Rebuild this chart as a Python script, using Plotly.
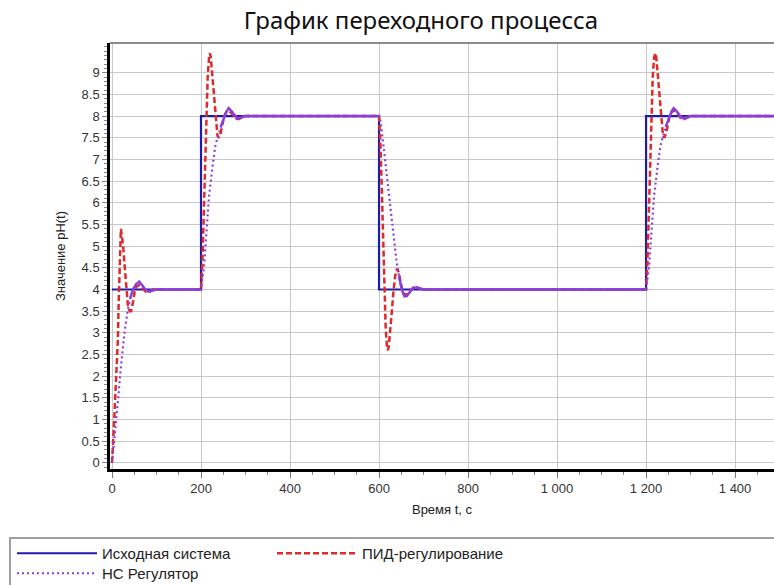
import numpy as np
import plotly.graph_objects as go

# ---- data -------------------------------------------------------------
# reference (setpoint) signal
T_REF = [0, 200, 200, 600, 600, 1200, 1200, 1490]
V_REF = [4, 4, 8, 8, 4, 4, 8, 8]

# PID controller response
T_PID = [0, 3, 5, 8, 11, 13, 15, 17, 19, 20, 22, 25, 28, 32, 36, 40, 43, 47, 51, 56,
         62, 69, 76, 84, 92, 100,
         200, 203, 206, 209, 212, 215, 218, 220, 222, 225, 228, 231, 234, 237, 240, 244,
         248, 252, 257, 263, 270, 277, 284, 292, 300,
         600, 603, 606, 609, 612, 615, 618, 620, 622, 625, 628, 632, 636, 640, 644, 648,
         652, 656, 662, 669, 676, 683, 691, 700,
         1200, 1203, 1206, 1209, 1212, 1215, 1218, 1221, 1223, 1226, 1229, 1232, 1235,
         1238, 1241, 1245, 1249, 1253, 1258, 1264, 1271, 1278, 1285, 1293, 1301, 1490]
V_PID = [0, 0.5, 1.0, 1.7, 2.3, 2.8, 3.7, 4.6, 5.2, 5.4, 5.25, 5.0, 4.6, 4.0, 3.6, 3.5,
         3.5, 3.7, 3.95, 4.08, 4.1, 4.02, 3.95, 3.95, 4.0, 4.0,
         4, 4.6, 5.6, 6.8, 8.0, 8.9, 9.35, 9.45, 9.35, 9.0, 8.6, 8.2, 7.8, 7.55, 7.5, 7.6,
         7.8, 8.0, 8.1, 8.12, 8.05, 7.95, 7.93, 7.97, 8.0,
         8, 7.4, 6.4, 5.2, 4.0, 3.1, 2.65, 2.6, 2.7, 3.0, 3.4, 3.9, 4.3, 4.48, 4.4, 4.2,
         4.0, 3.9, 3.88, 3.95, 4.04, 4.06, 4.02, 4.0,
         4, 4.6, 5.6, 6.8, 8.0, 8.9, 9.35, 9.45, 9.35, 9.0, 8.6, 8.2, 7.8, 7.55, 7.5, 7.6,
         7.8, 8.0, 8.1, 8.12, 8.05, 7.95, 7.93, 7.97, 8.0, 8.0]

# neural-network controller response
T_NN = [0, 5, 9, 14, 18, 23, 28, 35, 41, 47, 54, 61, 68, 75, 82, 90, 100,
        200, 203, 207, 213, 218, 226, 232, 237, 244, 252, 257, 262, 268, 275, 282, 290, 298,
        600, 604, 611, 619, 626, 633, 639, 645, 651, 657, 663, 670, 677, 684, 692, 700,
        1200, 1203, 1207, 1213, 1218, 1226, 1232, 1237, 1244, 1252, 1257, 1262, 1268, 1275,
        1282, 1290, 1298, 1490]
V_NN = [0, 0.5, 1.0, 1.5, 2.0, 2.5, 3.0, 3.5, 3.8, 4.0, 4.12, 4.18, 4.1, 4.0, 3.95, 3.97, 4.0,
        4, 4.25, 4.55, 5.45, 6.15, 6.85, 7.3, 7.5, 7.75, 7.98, 8.1, 8.18, 8.12, 8.02, 7.95, 7.96, 8.0,
        8, 7.85, 7.22, 6.5, 5.83, 5.22, 4.68, 4.3, 4.0, 3.84, 3.85, 3.95, 4.03, 4.05, 4.02, 4.0,
        4, 4.25, 4.55, 5.45, 6.15, 6.85, 7.3, 7.5, 7.75, 7.98, 8.1, 8.18, 8.12, 8.02, 7.95, 7.96, 8.0, 8.0]

X_TICK_VALUES = [0, 200, 400, 600, 800, 1000, 1200, 1400]
X_TICK_LABELS = ["0", "200", "400", "600", "800", "1 000", "1 200", "1 400"]
Y_TICK_VALUES = [0, 0.5, 1, 1.5, 2, 2.5, 3, 3.5, 4, 4.5, 5, 5.5, 6, 6.5, 7, 7.5, 8, 8.5, 9]
Y_TICK_LABELS = ["0", "0.5", "1", "1.5", "2", "2.5", "3", "3.5", "4", "4.5", "5", "5.5",
                 "6", "6.5", "7", "7.5", "8", "8.5", "9"]

TITLE = "График переходного процесса"
NAMES = ["Исходная система", "ПИД-регулирование", "НС Регулятор"]

# ---- styling ----------------------------------------------------------
FONT = "Liberation Sans, Arial, sans-serif"
C_REF = "#1c1ca8"
C_PID = "#dd2a2a"
C_NN = "#8a3ee0"

# settled part of the NN response (near the active setpoint) is drawn solid
t_nn = np.array(T_NN, dtype=float)
v_nn = np.array(V_NN, dtype=float)
idx = np.clip(np.searchsorted(np.array(T_REF), t_nn, side="left") - 1, 0, None)
setpoint = np.array(V_REF, dtype=float)[idx]
settled = [v if abs(v - s) <= 0.3 else None for v, s in zip(v_nn, setpoint)]

fig = go.Figure()
fig.add_trace(go.Scatter(x=T_REF, y=V_REF, mode="lines", name=NAMES[0],
                         line=dict(color=C_REF, width=2.2), legend="legend"))
fig.add_trace(go.Scatter(x=T_PID, y=V_PID, mode="lines", name=NAMES[1],
                         line=dict(color=C_PID, width=2.5, dash="6px,3px"), legend="legend"))
fig.add_trace(go.Scatter(x=T_NN, y=V_NN, mode="lines", name=NAMES[2],
                         line=dict(color=C_NN, width=2.2, dash="2px,3px"), legend="legend2"))
fig.add_trace(go.Scatter(x=T_NN, y=settled, mode="lines", showlegend=False,
                         connectgaps=False, line=dict(color=C_NN, width=2.4)))

L, R, T, B = 110, 0, 43, 116
W, H = 774, 585
pw, ph = W - L - R, H - T - B


def px_x(p):
    return (p - L) / pw


def px_y(p):
    return (H - B - p) / ph


legend_common = dict(orientation="h", xanchor="left", yanchor="top",
                     bgcolor="rgba(0,0,0,0)", borderwidth=0, itemwidth=80,
                     entrywidth=165, font=dict(family=FONT, size=15, color="#222"))

fig.update_layout(
    width=W, height=H,
    margin=dict(l=L, r=R, t=T, b=B, autoexpand=False),
    paper_bgcolor="white", plot_bgcolor="white",
    title=dict(text=TITLE, xref="container", x=421 / W, xanchor="center",
               yref="container", y=1 - 21 / H, yanchor="middle",
               font=dict(family="Noto Sans, sans-serif", size=24, color="#111")),
    legend=dict(x=px_x(12), y=px_y(537), **legend_common),
    legend2=dict(x=px_x(12), y=px_y(557), **legend_common),
    xaxis=dict(range=[-4.5, 1487.5], tickmode="array", tickvals=X_TICK_VALUES,
               ticktext=X_TICK_LABELS, ticks="outside", ticklen=6, tickcolor="#777",
               showgrid=True, gridcolor="#c8c8c8", gridwidth=1, zeroline=False,
               showline=True, linecolor="black", linewidth=2.5,
               tickfont=dict(family=FONT, size=13, color="#333"),
               minor=dict(dtick=50, tick0=0, ticks="outside", ticklen=3, tickcolor="#888",
                          showgrid=False),
               title=dict(text="Время t, с", standoff=10,
                          font=dict(family=FONT, size=13, color="#222"))),
    yaxis=dict(range=[-0.14, 9.685], tickmode="array", tickvals=Y_TICK_VALUES,
               ticktext=Y_TICK_LABELS, ticks="outside", ticklen=5, tickcolor="#888",
               showgrid=True, gridcolor="#c8c8c8", gridwidth=1, zeroline=False,
               showline=True, linecolor="black", linewidth=2.5,
               tickfont=dict(family=FONT, size=13, color="#333"),
               minor=dict(dtick=0.1, tick0=0, ticks="outside", ticklen=3, tickcolor="#888",
                          showgrid=False),
               title=dict(text="Значение pH(t)", standoff=14,
                          font=dict(family=FONT, size=13, color="#222"))),
    shapes=[
        # top edge of the plot frame
        dict(type="line", xref="paper", yref="paper", x0=0, x1=1.02, y0=1, y1=1,
             line=dict(color="#8c8c8c", width=2)),
        # legend box
        dict(type="rect", xref="paper", yref="paper", x0=px_x(10), x1=px_x(790),
             y0=px_y(538), y1=px_y(600), line=dict(color="#a0a0a0", width=2),
             fillcolor="rgba(0,0,0,0)"),
    ],
)

fig.write_html("out.html")
